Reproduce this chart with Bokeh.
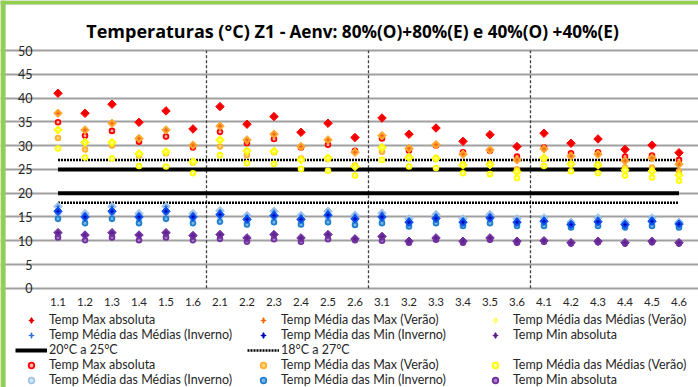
from bokeh.plotting import figure
from bokeh.models import Range1d, FixedTicker, Legend, LegendItem, Label, BoxAnnotation
from bokeh.embed import file_html
from bokeh.resources import INLINE

categories = ["1.1", "1.2", "1.3", "1.4", "1.5", "1.6",
              "2.1", "2.2", "2.3", "2.4", "2.5", "2.6",
              "3.1", "3.2", "3.3", "3.4", "3.5", "3.6",
              "4.1", "4.2", "4.3", "4.4", "4.5", "4.6"]
y_ticks = [0, 5, 10, 15, 20, 25, 30, 35, 40, 45, 50]

# series A (diamonds)
max_abs_a = [41.0, 36.8, 38.7, 34.9, 37.3, 33.5, 38.2, 34.5, 36.1, 32.8, 34.7, 31.7,
             35.8, 32.4, 33.7, 30.9, 32.3, 29.8, 32.6, 30.5, 31.4, 29.2, 30.1, 28.5]
med_max_ver_a = [36.8, 33.3, 34.7, 31.5, 33.3, 30.1, 34.1, 31.2, 32.4, 29.8, 31.2, 28.6,
                 32.1, 29.4, 30.2, 28.2, 29.1, 27.0, 29.3, 27.8, 28.2, 26.8, 27.4, 26.1]
med_med_ver_a = [33.3, 30.7, 30.7, 28.3, 28.7, 26.6, 31.2, 28.9, 28.8, 27.0, 27.4, 25.6,
                 29.6, 27.5, 27.3, 25.9, 26.0, 24.5, 27.4, 26.1, 25.9, 24.9, 24.6, 23.8]
med_med_inv_a = [17.2, 15.7, 17.2, 15.7, 17.2, 15.7, 16.3, 15.3, 16.2, 15.3, 16.2, 15.4,
                 15.8, 14.6, 15.5, 14.6, 15.5, 14.6, 14.8, 13.9, 14.8, 13.9, 14.8, 13.9]
med_min_inv_a = [16.2, 15.0, 16.2, 15.0, 16.2, 15.0, 15.5, 14.5, 15.3, 14.5, 15.4, 14.6,
                 15.0, 13.9, 14.7, 13.9, 14.8, 13.9, 14.1, 13.4, 14.0, 13.4, 14.1, 13.5]
min_abs_a = [11.7, 11.2, 11.7, 11.2, 11.7, 11.1, 11.3, 10.6, 11.3, 10.6, 11.3, 10.4,
             10.9, 9.9, 10.6, 9.9, 10.6, 9.9, 10.0, 9.6, 9.9, 9.6, 9.9, 9.6]

# series B (circles)
max_abs_b = [34.9, 32.1, 33.1, 30.8, 31.9, 29.6, 32.9, 30.5, 31.4, 29.6, 30.2, 28.9,
             31.5, 29.0, 30.0, 28.6, 28.9, 27.7, 29.6, 28.4, 28.6, 27.7, 27.9, 27.0]
med_max_ver_b = [31.6, 29.2, 30.0, 27.9, 28.4, 26.4, 29.8, 28.0, 28.6, 27.3, 27.2, 25.8,
                 28.7, 27.6, 27.4, 26.0, 26.2, 25.0, 27.2, 26.2, 26.0, 25.4, 25.4, 24.6]
med_med_ver_b = [29.4, 27.5, 27.3, 25.7, 25.6, 24.2, 28.0, 26.3, 26.2, 25.1, 24.7, 23.7,
                 27.0, 25.6, 25.3, 24.2, 24.0, 23.2, 25.7, 24.6, 24.2, 23.7, 23.3, 22.6]
med_med_inv_b = [15.8, 14.6, 15.8, 14.6, 15.8, 14.6, 15.0, 14.0, 14.9, 14.0, 14.9, 14.0,
                 14.5, 13.5, 14.3, 13.5, 14.3, 13.5, 13.6, 13.1, 13.6, 13.1, 13.6, 13.1]
med_min_inv_b = [14.6, 13.7, 14.6, 13.7, 14.6, 13.7, 14.0, 13.4, 13.9, 13.4, 13.9, 13.3,
                 13.7, 13.0, 13.7, 13.1, 13.7, 13.1, 13.1, 12.8, 13.1, 12.8, 13.1, 12.8]
min_abs_b = [10.7, 10.1, 10.7, 10.1, 10.7, 10.1, 10.4, 9.8, 10.3, 9.8, 10.3, 10.1,
             10.0, 9.6, 10.2, 9.6, 10.2, 9.6, 9.8, 9.4, 9.7, 9.4, 9.7, 9.4]

comfort_low, comfort_high = 20, 25
band_low, band_high = 18, 27

labels = ["Temp Max absoluta", "Temp Média das Max (Verão)", "Temp Média das Médias (Verão)",
          "Temp Média das Médias (Inverno)", "Temp Média das Min (Inverno)", "Temp Min absoluta"]
line_labels = ["20°C a 25°C", "18°C a 27°C"]
title_main = "Temperaturas (°C) Z1 -"
title_sub = "Aenv: 80%(O)+80%(E) e 40%(O) +40%(E)"

FONT = "Lato"
TFONT = "Open Sans"
TXT = "#262626"

circ_style = [("#ff0000", "#ffb3b3"), ("#ffb02e", "#ffd27a"), ("#ffff00", "#ffffb0"),
              ("#9dc3e6", "#d6e8f7"), ("#1f7fcc", "#7fb8e6"), ("#7030a0", "#a77fc7")]
dia_style = [("#ff0000", "#e00000"), ("#ffa62b", "#f0641e"), ("#ffff00", "#ffff99"),
             ("#9dc3e6", "#2f6fe0"), ("#0a4ff0", "#0000b0"), ("#7030a0", "#5a2086")]

W, H = 698, 387
PX = 27.0          # pixels per category
PY = 4.756         # pixels per degree
LEFT, RIGHT = 44, 6
Y0_PX = 287.8      # pixel row of 0 degrees

n = len(categories)
xs = [i + 0.5 for i in range(n)]  # category centres on the numeric scale

p = figure(width=W, height=H,
           x_range=Range1d(-LEFT / PX, n + RIGHT / PX),
           y_range=Range1d(-(H - Y0_PX) / PY, Y0_PX / PY),
           output_backend="svg", toolbar_location=None,
           min_border_left=0, min_border_right=0, min_border_top=0, min_border_bottom=0)
p.outline_line_color = None
p.xgrid.visible = False
p.ygrid.grid_line_color = "#a0a0a0"
p.ygrid.grid_line_width = 1.8
p.ygrid.bounds = (0, n)

p.yaxis.ticker = FixedTicker(ticks=y_ticks)
p.yaxis.fixed_location = 0
p.xaxis.ticker = FixedTicker(ticks=xs)
p.xaxis.major_label_overrides = {x: c for x, c in zip(xs, categories)}
p.xaxis.fixed_location = y_ticks[0]
for ax in (p.xaxis[0], p.yaxis[0]):
    ax.axis_line_color = None
    ax.major_tick_line_color = None
    ax.minor_tick_line_color = None
    ax.major_tick_out = 0
    ax.major_tick_in = 0
    ax.major_label_text_font = FONT
    ax.major_label_text_color = TXT
p.yaxis.major_label_text_font_size = "12.5px"
p.yaxis.major_label_standoff = 12
p.xaxis.major_label_text_font_size = "11.5px"
p.xaxis.major_label_standoff = 10

# outer chart border (green)
p.add_layout(BoxAnnotation(left=p.x_range.start, right=p.x_range.start + 5 / PX,
                           fill_color="#92d050", fill_alpha=1, line_color="#b4b4b4", line_width=1))
p.add_layout(BoxAnnotation(bottom=p.y_range.end - 4 / PY, fill_color="#92d050", fill_alpha=1,
                           line_color="#b4b4b4", line_width=1))

# group separators
bounds = [i for i in range(1, n) if categories[i][0] != categories[i - 1][0]]
p.segment(x0=bounds, x1=bounds, y0=[y_ticks[0]] * len(bounds), y1=[y_ticks[-1]] * len(bounds),
          line_color="#404040", line_width=1.3, line_dash="3 2")

# reference lines
r_solid = p.line(xs, [comfort_high] * n, line_color="black", line_width=4)
p.line(xs, [comfort_low] * n, line_color="black", line_width=4)
r_dot = p.line(xs, [band_high] * n, line_color="black", line_width=2.5, line_dash="2 1")
p.line(xs, [band_low] * n, line_color="black", line_width=2.5, line_dash="2 1")

series_b = [max_abs_b, med_max_ver_b, med_med_ver_b, med_med_inv_b, med_min_inv_b, min_abs_b]
series_a = [max_abs_a, med_max_ver_a, med_med_ver_a, med_med_inv_a, med_min_inv_a, min_abs_a]

circ_r = []
for ys, (c, f) in zip(series_b, circ_style):
    circ_r.append(p.scatter(xs, ys, marker="circle", size=4.8, line_width=1.8,
                            line_color=c, fill_color=f))
for ys, (c, cc) in zip(series_a, dia_style):
    p.scatter(xs, ys, marker="square", angle=0.7854, size=6.0, line_width=1,
              line_color=c, fill_color=c)
    p.scatter(xs, ys, marker="cross", size=3.5, line_width=1.2, line_color=cc)

# legend swatches for the diamond series (kept outside the visible y range)
off_x, off_y = xs[:1], [p.y_range.start - 10]
dia_keys = []
for c, cc in dia_style:
    k1 = p.scatter(off_x, off_y, marker="diamond", size=11.5, line_width=1, line_color=c, fill_color=c)
    k2 = p.scatter(off_x, off_y, marker="cross", size=3.5, line_width=1.2, line_color=cc)
    dia_keys.append([k1, k2])
r_blank = p.scatter(off_x, off_y, size=1, fill_alpha=0, line_alpha=0)

items = [LegendItem(label=labels[i], renderers=dia_keys[i]) for i in range(6)]
items += [LegendItem(label=line_labels[0], renderers=[r_solid]),
          LegendItem(label=line_labels[1], renderers=[r_dot]),
          LegendItem(label=" ", renderers=[r_blank])]
items += [LegendItem(label=labels[i], renderers=[circ_r[i]]) for i in range(6)]

legend = Legend(items=items, location=(15, 0), orientation="horizontal", ncols=3,
                glyph_width=32, glyph_height=14, label_height=14, label_width=198,
                label_standoff=2, spacing=0, padding=2, margin=0,
                border_line_color=None, background_fill_alpha=0,
                label_text_font=FONT, label_text_font_size="12.5px", label_text_color=TXT)
p.add_layout(legend, "center")

# title
p.add_layout(Label(x=8.93, y=54.0, text=title_main, text_align="right", text_baseline="alphabetic",
                   text_font=TFONT, text_font_style="bold", text_font_size="18px", text_color="black"))
p.add_layout(Label(x=9.07, y=54.0, text=title_sub, text_align="left", text_baseline="alphabetic",
                   text_font=TFONT, text_font_style="bold", text_font_size="17.2px", text_color="black"))

open("out.html", "w").write(file_html(p, INLINE))
